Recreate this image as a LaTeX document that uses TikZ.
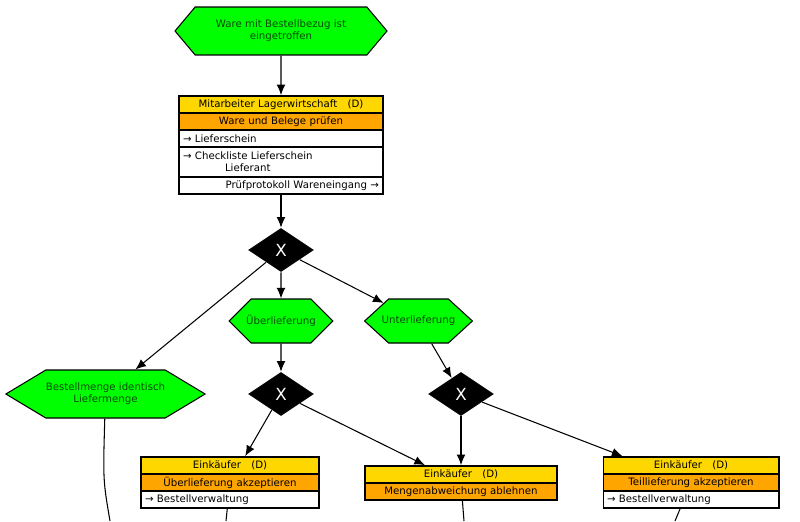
\documentclass[tikz,border=0pt]{standalone}
\usepackage{fontspec}
\setmainfont{DejaVu Sans}
\usepackage{xcolor}
\usepackage{tikz}
\usetikzlibrary{positioning}
\usetikzlibrary{shapes}
\usetikzlibrary{arrows.meta}
\usetikzlibrary{fit}

\definecolor{ereignisgruen}{HTML}{00FF00}
\definecolor{ereignisschrift}{HTML}{0A4A0A}
\definecolor{rollengelb}{HTML}{FFD700}
\definecolor{funktionsorange}{HTML}{FFA500}

\tikzset{
  ereignis/.style={shape=signal, signal to=west and east, draw=black, fill=ereignisgruen,
    text=ereignisschrift, inner xsep=0pt, inner ysep=0pt, align=center, line width=0.6pt},
  xor/.style={shape=diamond, fill=black, text=white, inner sep=0pt,
    minimum width=1.32cm, minimum height=0.88cm, font=\fontsize{9.5}{11}\selectfont},
  zeile/.style={draw=black, line width=0.6pt, inner xsep=0.08cm, inner ysep=0pt, minimum height=0.34cm},
  rolle/.style={zeile, fill=rollengelb, align=center},
  funktion/.style={zeile, fill=funktionsorange, align=center},
  daten/.style={zeile, fill=white},
  pfeil/.style={-{Latex[length=6pt,width=5pt]}, line width=0.6pt},
  kante/.style={line width=0.6pt}
}

\begin{document}
\begin{tikzpicture}[x=0.02cm, y=-0.02cm, font=\fontsize{5.8}{7}\selectfont]
\useasboundingbox (0,0) rectangle (800,521);

\node[ereignis, minimum width=4.24cm, minimum height=0.96cm, signal pointer angle=100] (ev1) at (281,31) {Ware mit Bestellbezug ist\\eingetroffen};

\node[rolle, text width=3.92cm] (lag1) at (281,104.5) {Mitarbeiter Lagerwirtschaft~~~(D)};
\node[funktion, text width=3.92cm] (lag2) at (281,121.5) {Ware und Belege prüfen};
\node[daten, text width=3.92cm, align=left] (lag3) at (281,138.5) {→ Lieferschein};
\node[daten, text width=3.92cm, align=left, minimum height=0.6cm] (lag4) at (281,162) {→ Checkliste Lieferschein\\\hspace*{0.84cm}Lieferant};
\node[daten, text width=3.92cm, align=right] (lag5) at (281,185.5) {Prüfprotokoll Wareneingang →};
\node[fit=(lag1)(lag5), inner sep=0pt] (lager) {};

\node[xor] (x1) at (281,250) {X};

\node[ereignis, minimum width=3.98cm, minimum height=0.96cm, signal pointer angle=62] (bm) at (105.5,394) {Bestellmenge identisch\\Liefermenge};
\node[ereignis, minimum height=0.88cm, inner xsep=-0.1cm, signal pointer angle=90] (ue) at (281,321) {Überlieferung};
\node[ereignis, minimum height=0.88cm, inner xsep=-0.14cm, signal pointer angle=85] (ul) at (418.5,321) {Unterlieferung};

\node[xor] (x2) at (281,394) {X};
\node[xor] (x3) at (461,394) {X};

\node[rolle, text width=3.40cm] (ueb1) at (230,465.5) {Einkäufer~~~(D)};
\node[funktion, text width=3.40cm] (ueb2) at (230,482.5) {Überlieferung akzeptieren};
\node[daten, text width=3.40cm, align=left] (ueb3) at (230,499.5) {→ Bestellverwaltung};
\node[fit=(ueb1)(ueb3), inner sep=0pt] (ueb) {};

\node[rolle, text width=3.68cm] (abl1) at (461,474.5) {Einkäufer~~~(D)};
\node[funktion, text width=3.68cm] (abl2) at (461,491.5) {Mengenabweichung ablehnen};
\node[fit=(abl1)(abl2), inner sep=0pt] (abl) {};

\node[rolle, text width=3.36cm] (teil1) at (691,465.5) {Einkäufer~~~(D)};
\node[funktion, text width=3.36cm] (teil2) at (691,482.5) {Teillieferung akzeptieren};
\node[daten, text width=3.36cm, align=left] (teil3) at (691,499.5) {→ Bestellverwaltung};
\node[fit=(teil1)(teil3), inner sep=0pt] (teil) {};

\coordinate (weiterBM) at (110,521);
\coordinate (weiterUeb) at (226,521);
\coordinate (weiterAbl) at (464,521);
\coordinate (weiterTeil) at (675,521);

\draw[pfeil] (ev1) -- (lager);
\draw[pfeil] (lager) -- (x1);

\draw[pfeil] (x1) -- (bm);
\draw[pfeil] (x1) -- (ue);
\draw[pfeil] (x1) -- (ul);

\draw[pfeil] (ue) -- (x2);
\draw[pfeil] (ul) -- (x3);

\draw[pfeil] (x2) -- (ueb);
\draw[pfeil] (x2) -- (abl);
\draw[pfeil] (x3) -- (abl);
\draw[pfeil] (x3) -- (teil);

\draw[kante] (bm) .. controls (103,480) .. (weiterBM);
\draw[kante] (ueb) -- (weiterUeb);
\draw[kante] (abl) -- (weiterAbl);
\draw[kante] (teil) -- (weiterTeil);
\end{tikzpicture}
\end{document}
